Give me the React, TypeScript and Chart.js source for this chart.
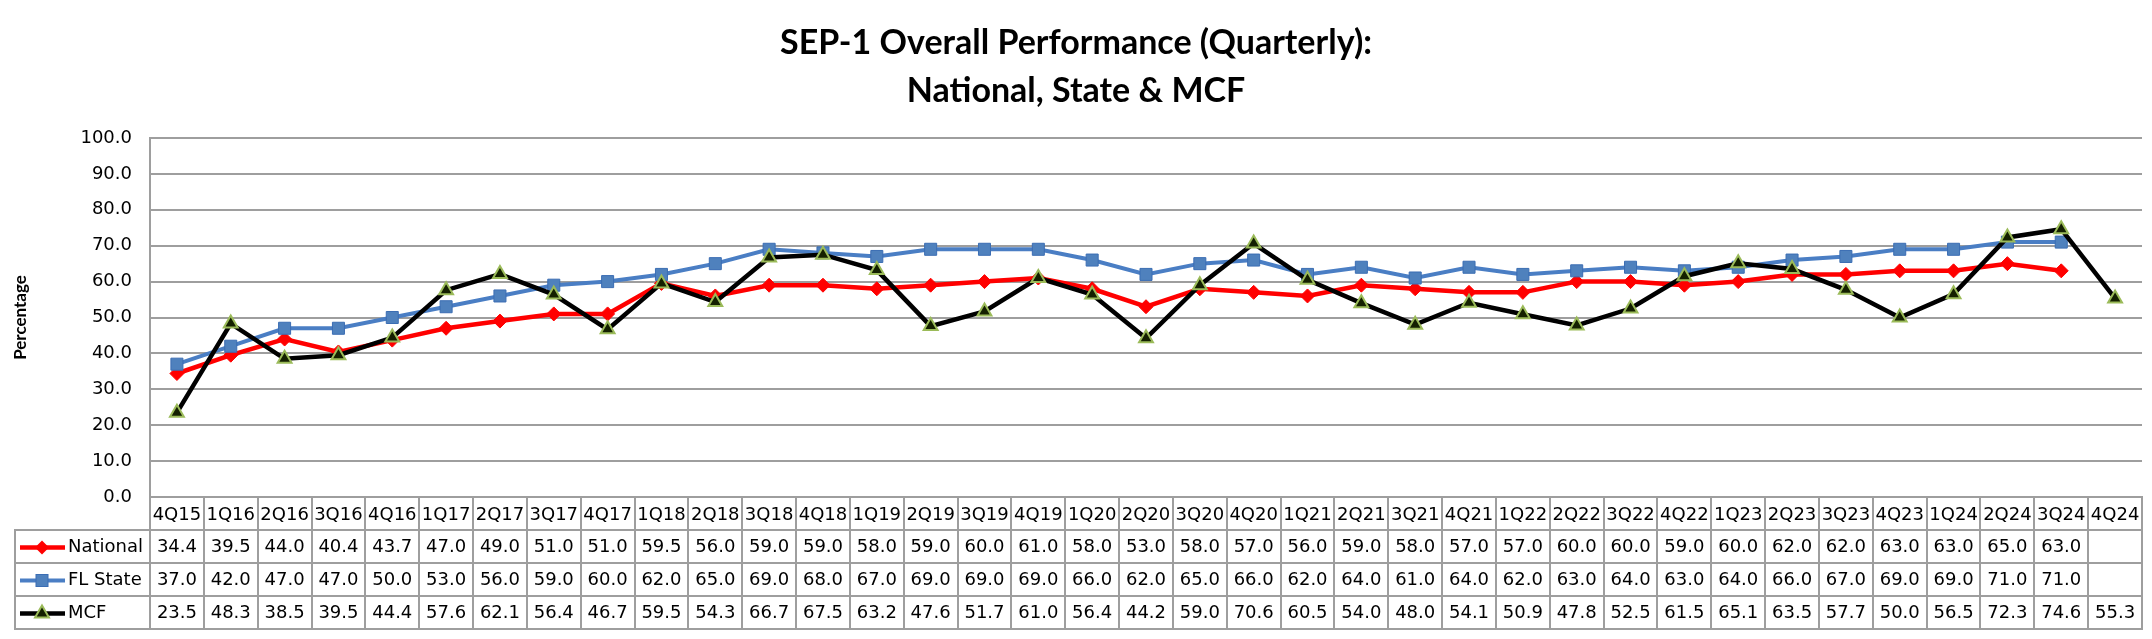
import { useEffect, useRef } from 'react';
import { Chart, registerables } from 'chart.js';

Chart.register(...registerables);

const TITLE_LINES = ['SEP-1 Overall Performance (Quarterly):', 'National, State & MCF'];
const Y_TITLE = 'Percentage';

const CATEGORIES = [
  '4Q15', '1Q16', '2Q16', '3Q16', '4Q16', '1Q17', '2Q17', '3Q17', '4Q17',
  '1Q18', '2Q18', '3Q18', '4Q18', '1Q19', '2Q19', '3Q19', '4Q19',
  '1Q20', '2Q20', '3Q20', '4Q20', '1Q21', '2Q21', '3Q21', '4Q21',
  '1Q22', '2Q22', '3Q22', '4Q22', '1Q23', '2Q23', '3Q23', '4Q23',
  '1Q24', '2Q24', '3Q24', '4Q24',
];

const NATIONAL = [
  34.4, 39.5, 44.0, 40.4, 43.7, 47.0, 49.0, 51.0, 51.0,
  59.5, 56.0, 59.0, 59.0, 58.0, 59.0, 60.0, 61.0,
  58.0, 53.0, 58.0, 57.0, 56.0, 59.0, 58.0, 57.0,
  57.0, 60.0, 60.0, 59.0, 60.0, 62.0, 62.0, 63.0,
  63.0, 65.0, 63.0, null,
];

const FL_STATE = [
  37.0, 42.0, 47.0, 47.0, 50.0, 53.0, 56.0, 59.0, 60.0,
  62.0, 65.0, 69.0, 68.0, 67.0, 69.0, 69.0, 69.0,
  66.0, 62.0, 65.0, 66.0, 62.0, 64.0, 61.0, 64.0,
  62.0, 63.0, 64.0, 63.0, 64.0, 66.0, 67.0, 69.0,
  69.0, 71.0, 71.0, null,
];

const MCF = [
  23.5, 48.3, 38.5, 39.5, 44.4, 57.6, 62.1, 56.4, 46.7,
  59.5, 54.3, 66.7, 67.5, 63.2, 47.6, 51.7, 61.0,
  56.4, 44.2, 59.0, 70.6, 60.5, 54.0, 48.0, 54.1,
  50.9, 47.8, 52.5, 61.5, 65.1, 63.5, 57.7, 50.0,
  56.5, 72.3, 74.6, 55.3,
];

const SERIES_NAMES = ['National', 'FL State', 'MCF'];

const Y_MIN = 0;
const Y_MAX = 100;
const Y_STEP = 10;

const GRID_COLOR = '#9e9e9e';
const TEXT_FONT = '"DejaVu Sans", Verdana, sans-serif';
const TITLE_FONT = 'Lato, "Open Sans", sans-serif';

const W = 2152;
const H = 639;

function drawMarker(ctx: CanvasRenderingContext2D, kind: string, x: number, y: number) {
  ctx.save();
  if (kind === 'diamond') {
    const r = 7;
    ctx.fillStyle = '#ff0000';
    ctx.beginPath();
    ctx.moveTo(x, y - r);
    ctx.lineTo(x + r, y);
    ctx.lineTo(x, y + r);
    ctx.lineTo(x - r, y);
    ctx.closePath();
    ctx.fill();
  } else if (kind === 'square') {
    const s = 6;
    ctx.fillStyle = '#4f81bd';
    ctx.strokeStyle = '#3b6db3';
    ctx.lineWidth = 1;
    ctx.fillRect(x - s, y - s, 2 * s, 2 * s);
    ctx.strokeRect(x - s, y - s, 2 * s, 2 * s);
  } else {
    const r = 8;
    ctx.fillStyle = '#142000';
    ctx.strokeStyle = '#9bbb59';
    ctx.lineWidth = 2;
    ctx.beginPath();
    ctx.moveTo(x, y - r);
    ctx.lineTo(x + r * 0.87, y + r * 0.5);
    ctx.lineTo(x - r * 0.87, y + r * 0.5);
    ctx.closePath();
    ctx.fill();
    ctx.stroke();
  }
  ctx.restore();
}

const LEGEND_MARKERS = ['diamond', 'square', 'triangle'];

const tablePlugin = {
  id: 'dataTable',
  afterDraw(chart: any) {
    const ctx: CanvasRenderingContext2D = chart.ctx;
    const area = chart.chartArea;
    const xs = chart.scales.x;
    const n = CATEGORIES.length;
    const colW = (area.right - area.left) / n;
    const top = area.bottom;
    const rows = [top, top + 33, top + 66, top + 99, top + 132];
    const tableLeft = 15;

    ctx.save();
    // title
    ctx.fillStyle = '#000';
    ctx.textAlign = 'center';
    ctx.textBaseline = 'middle';
    ctx.font = `bold 34px ${TITLE_FONT}`;
    ctx.fillText(TITLE_LINES[0], W / 2, 43);
    ctx.fillText(TITLE_LINES[1], W / 2, 91);

    // table grid
    ctx.strokeStyle = GRID_COLOR;
    ctx.lineWidth = 2;
    ctx.beginPath();
    for (let i = 0; i <= n; i++) {
      const x = Math.round(xs.getPixelForValue(0) - colW / 2 + i * colW);
      ctx.moveTo(x, top);
      ctx.lineTo(x, rows[4]);
    }
    ctx.moveTo(tableLeft, rows[1]);
    ctx.lineTo(tableLeft, rows[4]);
    for (let r = 1; r <= 4; r++) {
      ctx.moveTo(tableLeft - 1, rows[r]);
      ctx.lineTo(area.right + 1, rows[r]);
    }
    ctx.stroke();

    // values and legend keys
    ctx.font = `18px ${TEXT_FONT}`;
    ctx.textBaseline = 'middle';
    chart.data.datasets.forEach((ds: any, r: number) => {
      const cy = (rows[r + 1] + rows[r + 2]) / 2 + 1;
      ctx.fillStyle = '#000';
      ctx.textAlign = 'center';
      ds.data.forEach((v: number | null, i: number) => {
        if (v == null) return;
        ctx.fillText(v.toFixed(1), xs.getPixelForValue(i), cy);
      });
      // legend key
      ctx.save();
      ctx.strokeStyle = ds.borderColor;
      ctx.lineWidth = ds.borderWidth;
      ctx.beginPath();
      ctx.moveTo(20, cy);
      ctx.lineTo(65, cy);
      ctx.stroke();
      ctx.restore();
      drawMarker(ctx, LEGEND_MARKERS[r], 42, cy);
      ctx.fillStyle = '#000';
      ctx.textAlign = 'left';
      ctx.fillText(SERIES_NAMES[r], 68, cy);
    });
    ctx.restore();
  },
};

export default function App() {
  const canvasRef = useRef<HTMLCanvasElement | null>(null);

  useEffect(() => {
    document.body.style.margin = '0';
    const canvas = canvasRef.current;
    if (!canvas) return;
    const chart = new Chart(canvas, {
      type: 'line',
      data: {
        labels: CATEGORIES,
        datasets: [
          {
            label: SERIES_NAMES[0],
            data: NATIONAL,
            borderColor: '#ff0000',
            backgroundColor: '#ff0000',
            borderWidth: 4.5,
            pointStyle: 'rectRot',
            pointRadius: 7,
            pointBorderWidth: 1,
            pointBorderColor: '#ff0000',
            pointBackgroundColor: '#ff0000',
            tension: 0,
            order: 3,
          },
          {
            label: SERIES_NAMES[1],
            data: FL_STATE,
            borderColor: '#4a7ec4',
            backgroundColor: '#4f81bd',
            borderWidth: 4,
            pointStyle: 'rect',
            pointRadius: 8.5,
            pointBorderWidth: 1,
            pointBorderColor: '#3b6db3',
            pointBackgroundColor: '#4f81bd',
            tension: 0,
            order: 2,
          },
          {
            label: SERIES_NAMES[2],
            data: MCF,
            borderColor: '#000000',
            backgroundColor: '#142000',
            borderWidth: 4.5,
            pointStyle: 'triangle',
            pointRadius: 8,
            pointBorderWidth: 2,
            pointBorderColor: '#9bbb59',
            pointBackgroundColor: '#142000',
            tension: 0,
            order: 1,
          },
        ],
      },
      options: {
        responsive: false,
        animation: false,
        devicePixelRatio: 1,
        layout: { padding: { top: 138, right: 5, bottom: 0, left: 0 } },
        plugins: {
          legend: { display: false },
          title: { display: false },
          tooltip: { enabled: false },
        },
        scales: {
          x: {
            type: 'category',
            offset: true,
            grid: { display: false, drawTicks: false },
            border: { display: true, color: GRID_COLOR, width: 2 },
            ticks: {
              color: '#000',
              font: { family: TEXT_FONT, size: 18 },
              padding: 8,
              maxRotation: 0,
              minRotation: 0,
              autoSkip: false,
            },
            afterFit: (scale: any) => {
              scale.height = 142;
            },
          },
          y: {
            min: Y_MIN,
            max: Y_MAX,
            grid: { color: GRID_COLOR, lineWidth: 2, drawTicks: false },
            border: { display: true, color: GRID_COLOR, width: 2 },
            ticks: {
              stepSize: Y_STEP,
              color: '#000',
              font: { family: TEXT_FONT, size: 18 },
              padding: 18,
              callback: (v: any) => Number(v).toFixed(1),
            },
            title: {
              display: true,
              text: Y_TITLE,
              color: '#000',
              font: { family: TITLE_FONT, size: 17, weight: 'bold' },
              padding: { top: 10, bottom: 0 },
            },
            afterFit: (scale: any) => {
              scale.width = 150;
            },
          },
        },
      },
      plugins: [tablePlugin],
    });
    return () => chart.destroy();
  }, []);

  return (
    <div style={{ width: W, height: H, background: '#fff' }}>
      <canvas ref={canvasRef} width={W} height={H} style={{ display: 'block' }} />
    </div>
  );
}
